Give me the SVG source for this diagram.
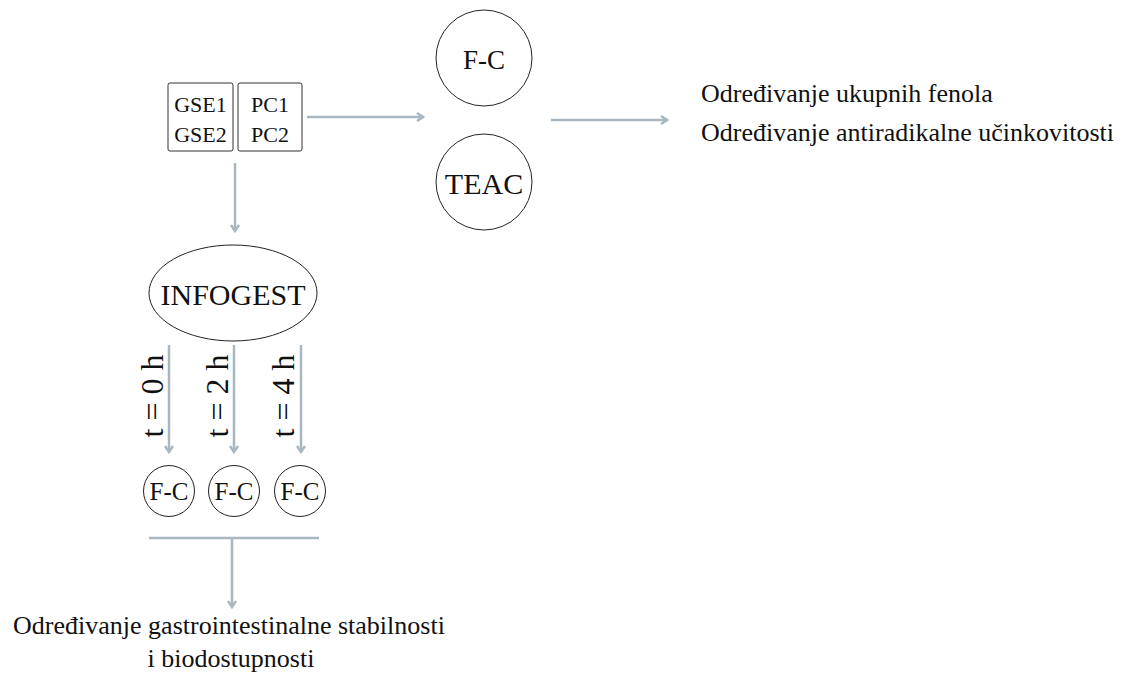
<svg xmlns="http://www.w3.org/2000/svg" width="1128" height="675" viewBox="0 0 1128 675">
<style>
  text { font-family: "Liberation Serif", "Times New Roman", serif; fill: #111; }
  .box { fill: #fff; stroke: #333; stroke-width: 1; }
  .node { fill: #fff; stroke: #222; stroke-width: 1; }
  .conn { stroke: #a9b7c1; stroke-width: 2.5; fill: none; }
  .arr { marker-end: url(#ah); }
</style>
<defs>
  <marker id="ah" viewBox="0 0 10 10" refX="8" refY="5" markerWidth="10" markerHeight="10" markerUnits="userSpaceOnUse" orient="auto">
    <path d="M2,1 L8,5 L2,9" fill="none" stroke="#a9b7c1" stroke-width="2.5" stroke-linejoin="miter"/>
  </marker>
</defs>
<rect width="1128" height="675" fill="#fff"/>

<g id="connectors">
  <line class="conn arr" x1="307" y1="117" x2="423" y2="117"/>
  <line class="conn arr" x1="551" y1="120" x2="667" y2="120"/>
  <line class="conn arr" x1="235" y1="163" x2="235" y2="231"/>
  <line class="conn arr" x1="169" y1="345" x2="169" y2="452"/>
  <line class="conn arr" x1="234" y1="345" x2="234" y2="452"/>
  <line class="conn arr" x1="301" y1="345" x2="301" y2="452"/>
  <line class="conn" x1="149" y1="538" x2="319" y2="538"/>
  <line class="conn arr" x1="232" y1="538" x2="232" y2="607"/>
</g>

<g id="gse">
  <rect class="box" x="168" y="83" width="65" height="68" rx="2"/>
  <text x="200.5" y="112" font-size="22" text-anchor="middle">GSE1</text>
  <text x="200.5" y="142" font-size="22" text-anchor="middle">GSE2</text>
</g>
<g id="pc">
  <rect class="box" x="238" y="83" width="64" height="68" rx="2"/>
  <text x="270" y="112" font-size="22" text-anchor="middle">PC1</text>
  <text x="270" y="142" font-size="22" text-anchor="middle">PC2</text>
</g>

<g id="fc-top">
  <circle class="node" cx="484" cy="58" r="48"/>
  <text x="484" y="69" font-size="27" text-anchor="middle">F-C</text>
</g>
<g id="teac">
  <circle class="node" cx="484" cy="182" r="48"/>
  <text x="484" y="194" font-size="30" text-anchor="middle">TEAC</text>
</g>

<g id="results-top">
  <text x="701" y="102" font-size="26">Određivanje ukupnih fenola</text>
  <text x="701" y="141" font-size="26">Određivanje antiradikalne učinkovitosti</text>
</g>

<g id="infogest">
  <ellipse class="node" cx="233" cy="293" rx="84" ry="48"/>
  <text x="233" y="305" font-size="30" text-anchor="middle">INFOGEST</text>
</g>

<g id="time-labels">
  <text transform="translate(163,396) rotate(-90)" font-size="32" text-anchor="middle">t = 0 h</text>
  <text transform="translate(228,396) rotate(-90)" font-size="32" text-anchor="middle">t = 2 h</text>
  <text transform="translate(294,396) rotate(-90)" font-size="32" text-anchor="middle">t = 4 h</text>
</g>

<g id="fc-0">
  <circle class="node" cx="169" cy="491" r="25.5"/>
  <text x="169" y="500" font-size="25" text-anchor="middle">F-C</text>
</g>
<g id="fc-2">
  <circle class="node" cx="234" cy="491" r="25.5"/>
  <text x="234" y="500" font-size="25" text-anchor="middle">F-C</text>
</g>
<g id="fc-4">
  <circle class="node" cx="300" cy="491" r="25.5"/>
  <text x="300" y="500" font-size="25" text-anchor="middle">F-C</text>
</g>

<g id="results-bottom">
  <text x="229" y="634" font-size="26" text-anchor="middle">Određivanje gastrointestinalne stabilnosti</text>
  <text x="231" y="667" font-size="26" text-anchor="middle">i biodostupnosti</text>
</g>
</svg>
